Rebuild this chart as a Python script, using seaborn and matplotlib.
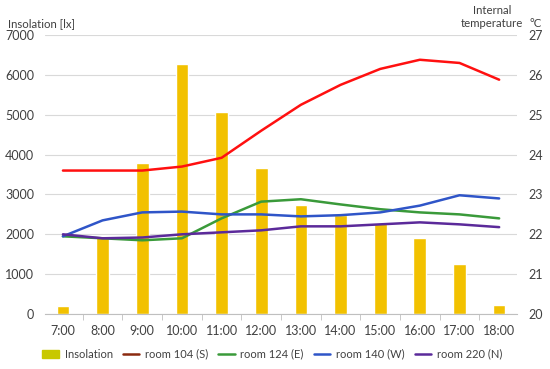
import pandas as pd
import numpy as np
import matplotlib
matplotlib.use("Agg")
import matplotlib.pyplot as plt
import seaborn as sns
from matplotlib.patches import Patch
from matplotlib.lines import Line2D

sns.set_style("white")
plt.rcParams["font.family"] = ["Lato", "DejaVu Sans"]

hours = ["7:00", "8:00", "9:00", "10:00", "11:00", "12:00",
         "13:00", "14:00", "15:00", "16:00", "17:00", "18:00"]
insolation = [200, 1950, 3780, 6270, 5070, 3670, 2730, 2480, 2280, 1900, 1250, 220]
room_104 = [23.6, 23.6, 23.6, 23.7, 23.92, 24.6, 25.25, 25.75, 26.15, 26.38, 26.3, 25.88]
room_124 = [21.95, 21.9, 21.85, 21.9, 22.4, 22.82, 22.88, 22.75, 22.63, 22.55, 22.5, 22.4]
room_140 = [21.95, 22.35, 22.55, 22.57, 22.5, 22.5, 22.45, 22.48, 22.55, 22.72, 22.98, 22.9]
room_220 = [22.0, 21.9, 21.92, 22.0, 22.05, 22.1, 22.2, 22.2, 22.25, 22.3, 22.25, 22.18]

rooms = {"room 104 (S)": room_104, "room 124 (E)": room_124,
         "room 140 (W)": room_140, "room 220 (N)": room_220}
colors = {"room 104 (S)": "#FF1010", "room 124 (E)": "#3A9A3A",
          "room 140 (W)": "#2F55C8", "room 220 (N)": "#5B2A9A"}

bars = pd.DataFrame({"hour": hours, "insolation": insolation})
temps = pd.DataFrame([
    {"idx": i, "room": name, "temp": v}
    for name, vals in rooms.items() for i, v in enumerate(vals)
])

fs = 9
tc = "#404040"

fig = plt.figure(figsize=(5.5, 3.69), dpi=100)
ax = fig.add_axes([0.082, 0.149, 0.858, 0.756])

sns.barplot(data=bars, x="hour", y="insolation", color="#F2C100",
            width=0.32, ax=ax, saturation=1)
ax.set_ylim(0, 7000)
ax.set_xlim(-0.45, 11.45)
ax.set_yticks(range(0, 7001, 1000))
ax.yaxis.grid(True, color="#D9D9D9", lw=0.8)
ax.set_axisbelow(True)
ax.set_xlabel("")
ax.set_ylabel("")
for s in ["top", "right", "left"]:
    ax.spines[s].set_visible(False)
ax.spines["bottom"].set_color("#BFBFBF")
ax.set_xticks(np.arange(-0.5, 12, 1), minor=True)
ax.tick_params(axis="x", which="minor", length=4, color="#BFBFBF", bottom=True)
ax.tick_params(axis="x", which="major", length=0, pad=8, labelsize=fs, colors=tc)
ax.tick_params(axis="y", length=0, labelsize=fs, colors=tc, pad=8)

ax2 = ax.twinx()
sns.lineplot(data=temps, x="idx", y="temp", hue="room", palette=colors,
             lw=1.8, ax=ax2, legend=False)
ax2.set_ylim(20, 27)
ax2.set_yticks(range(20, 28))
ax2.set_xlim(-0.45, 11.45)
ax2.set_xlabel("")
ax2.set_ylabel("")
for s in ["top", "right", "left", "bottom"]:
    ax2.spines[s].set_visible(False)
ax2.tick_params(axis="y", length=0, labelsize=fs, colors=tc, pad=8)

fig.text(0.015, 0.927, "Insolation [lx]", fontsize=8.2, color=tc, va="baseline")
fig.text(0.895, 0.927, "Internal\ntemperature", fontsize=8.2, color=tc,
         ha="center", va="baseline", multialignment="center", linespacing=1.2)
fig.text(0.963, 0.927, "°C", fontsize=8.2, color=tc, va="baseline")

handles = [Patch(color="#C8C800", label="Insolation"),
           Line2D([], [], color="#8B2A10", lw=1.8, label="room 104 (S)"),
           Line2D([], [], color=colors["room 124 (E)"], lw=1.8, label="room 124 (E)"),
           Line2D([], [], color=colors["room 140 (W)"], lw=1.8, label="room 140 (W)"),
           Line2D([], [], color=colors["room 220 (N)"], lw=1.8, label="room 220 (N)")]
fig.legend(handles=handles, loc="center", bbox_to_anchor=(0.495, 0.04), ncol=5,
           frameon=False, fontsize=8, handlelength=1.5, columnspacing=0.9,
           handletextpad=0.5, labelcolor=tc)

fig.savefig("out.png", dpi=100)
